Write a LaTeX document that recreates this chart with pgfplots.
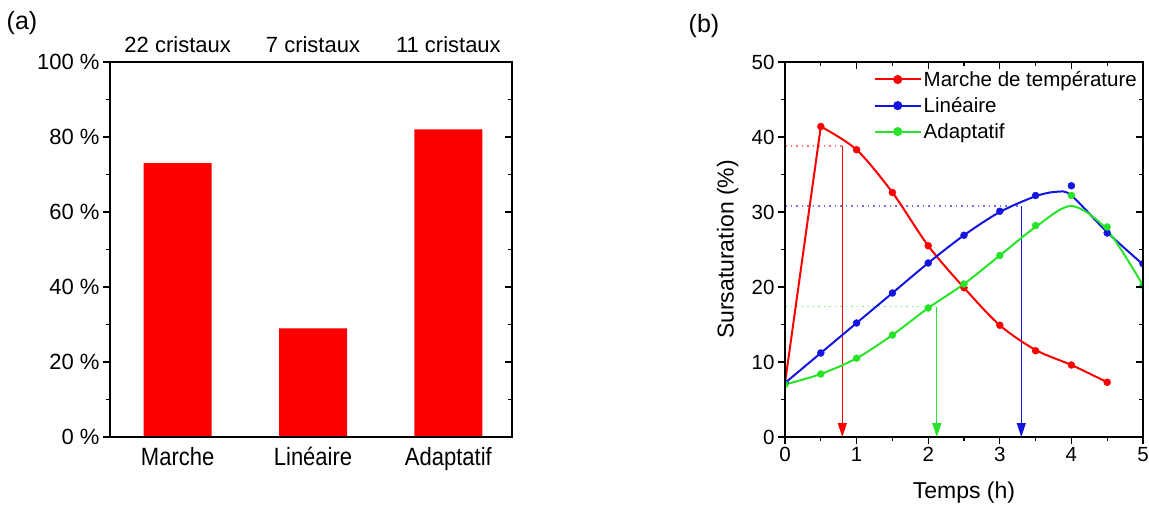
\documentclass[border=0pt]{standalone}
\usepackage{fontspec}
\setmainfont{Liberation Sans}
\newfontfamily\tall{Liberation Sans}[FakeStretch=0.88]
\usepackage{pgfplots}
\pgfplotsset{compat=1.18}
\usetikzlibrary{arrows.meta}

\definecolor{cred}{RGB}{250,0,0}
\definecolor{cblue}{RGB}{20,20,225}
\definecolor{cgreen}{RGB}{40,228,40}

\newcommand{\fa}{\fontsize{22}{26}\selectfont}
\newcommand{\fc}{\tall\fontsize{25}{29}\selectfont}
\newcommand{\fb}{\fontsize{20.5}{24}\selectfont}
\newcommand{\fl}{\fontsize{20.5}{24}\selectfont}
\newcommand{\flab}{\fontsize{23}{27}\selectfont}

\pgfplotsset{
  panel/.style={scale only axis, anchor=south west,
    axis line style={line width=1.5pt}, every tick/.style={black, line width=1.2pt},
    major tick length=7pt, minor tick length=4pt,
    /pgf/number format/assume math mode=true},
}

\begin{document}
\begin{tikzpicture}
\path[use as bounding box] (0pt,0pt) rectangle (1149pt,504pt);

% (a) bars
\begin{axis}[panel, at={(110pt,67pt)}, width=402pt, height=375pt,
  xmin=-0.5, xmax=2.47, ymin=0, ymax=100, clip=false,
  ybar, bar width=68pt,
  xtick=\empty,
  extra x ticks={0,1,2}, extra x tick labels={Marche,Linéaire,Adaptatif},
  extra x tick style={major tick length=0pt, tick label style={font=\fc, yshift=-7pt}},
  ytick={0,20,...,100}, yticklabels={0 \%,20 \%,40 \%,60 \%,80 \%,100 \%},
  minor y tick num=1, ytick pos=left, tick align=outside,
  tick label style={font=\fa}]
\addplot[fill=cred, draw=none] coordinates {(0,73) (1,29) (2,82)};
\node[font=\fa, anchor=base, inner sep=0pt, yshift=9pt] at (axis cs:0,100) {22 cristaux};
\node[font=\fa, anchor=base, inner sep=0pt, yshift=9pt] at (axis cs:1,100) {7 cristaux};
\node[font=\fa, anchor=base, inner sep=0pt, yshift=9pt] at (axis cs:2,100) {11 cristaux};
\end{axis}
\begin{axis}[panel, at={(110pt,67pt)}, width=402pt, height=375pt,
  xmin=-0.5, xmax=2.47, ymin=0, ymax=100, xtick=\empty,
  ytick={0,20,...,100}, yticklabels={}, minor y tick num=1,
  ytick pos=right, tick align=inside]
\end{axis}

\node[font=\fontsize{25}{29}\selectfont, anchor=center] at (22pt,481pt) {(a)};
\node[font=\fontsize{25}{29}\selectfont, anchor=center] at (704pt,478pt) {(b)};

% (b) supersaturation
\begin{axis}[panel, at={(785pt,67pt)}, width=358pt, height=375pt,
  xmin=0, xmax=5, ymin=0, ymax=50,
  xtick={0,1,...,5}, ytick={0,10,...,50}, minor x tick num=1, minor y tick num=1,
  xtick pos=bottom, ytick pos=left, tick align=outside,
  tick label style={font=\fb},
  xlabel={Temps (h)}, ylabel={Sursaturation (\%)},
  label style={font=\flab},
  xlabel style={at={(axis description cs:0.5,-0.147)}, anchor=center},
  ylabel style={at={(axis description cs:-0.16,0.5)}, anchor=center},
  clip marker paths=true,
  legend image code/.code={\draw[mark repeat=2,mark phase=2,#1] plot coordinates {(0pt,0pt) (23pt,0pt) (46pt,0pt)};},
  legend style={draw=none, fill=none, at={(1,1)}, anchor=north east, font=\fl,
    inner sep=0pt, row sep=5.5pt, xshift=-4pt, yshift=-7pt},
  legend cell align=left]
% guide lines
\draw[cred!55, line width=1.3pt, dash pattern=on 1.5pt off 4pt] (axis cs:0,38.8) -- (axis cs:0.8,38.8);
\draw[cred, line width=1pt, -{Triangle[width=9pt,length=14pt]}] (axis cs:0.8,38.8) -- (axis cs:0.8,0);
\draw[cblue!60, line width=1.3pt, dash pattern=on 1.5pt off 4pt] (axis cs:0,30.8) -- (axis cs:3.3,30.8);
\draw[cblue, line width=1pt, -{Triangle[width=9pt,length=14pt]}] (axis cs:3.3,30.8) -- (axis cs:3.3,0);
\draw[cgreen!65, line width=1.3pt, dash pattern=on 1.5pt off 4pt] (axis cs:0,17.4) -- (axis cs:2.12,17.4);
\draw[cgreen, line width=1pt, -{Triangle[width=9pt,length=14pt]}] (axis cs:2.12,17.4) -- (axis cs:2.12,0);
% curves
\addplot[cred, line width=2pt, forget plot] coordinates {(0,7.2) (0.5,41.4)};
\addplot[cred, line width=2pt, smooth, forget plot] coordinates {
  (0.5,41.4) (1,38.3) (1.5,32.6) (2,25.5) (2.5,19.9) (3,14.9) (3.5,11.6) (4,9.6) (4.5,7.3)};
\addplot[cblue, line width=2pt, smooth, forget plot] coordinates {
  (0,7.2) (0.5,11.2) (1,15.2) (1.5,19.2) (2,23.2) (2.5,26.9) (3,30.0) (3.5,32.1)
  (3.8,32.7) (4.0,32.2) (4.5,27.3) (5,23.0)};
\addplot[cgreen, line width=2pt, smooth, forget plot] coordinates {
  (0,7.0) (0.5,8.4) (1,10.5) (1.5,13.6) (2,17.2) (2.5,20.4) (3,24.2) (3.5,28.0)
  (4,30.8) (4.5,27.6) (5,20.2)};
% measured points
\addplot[cred, only marks, mark=*, mark size=3.5pt, forget plot] coordinates {
  (0,7.2) (0.5,41.4) (1,38.3) (1.5,32.6) (2,25.5) (2.5,19.9) (3,14.9) (3.5,11.5) (4,9.6) (4.5,7.3)};
\addplot[cblue, only marks, mark=*, mark size=3.5pt, forget plot] coordinates {
  (0,7.2) (0.5,11.2) (1,15.2) (1.5,19.2) (2,23.2) (2.5,26.9) (3,30.1) (3.5,32.2) (4,33.5) (4.5,27.2) (5,23.1)};
\addplot[cgreen, only marks, mark=*, mark size=3.5pt, forget plot] coordinates {
  (0,7.0) (0.5,8.4) (1,10.5) (1.5,13.6) (2,17.2) (2.5,20.4) (3,24.2) (3.5,28.2) (4,32.2) (4.5,28.0) (5,20.2)};
\addlegendimage{cred, line width=2pt, mark=*, mark size=3.5pt}
\addlegendentry{Marche de température}
\addlegendimage{cblue, line width=2pt, mark=*, mark size=3.5pt}
\addlegendentry{Linéaire}
\addlegendimage{cgreen, line width=2pt, mark=*, mark size=3.5pt}
\addlegendentry{Adaptatif}
\end{axis}
\begin{axis}[panel, at={(785pt,67pt)}, width=358pt, height=375pt,
  xmin=0, xmax=5, ymin=0, ymax=50,
  xtick={0,1,...,5}, ytick={0,10,...,50}, minor x tick num=1, minor y tick num=1,
  xticklabels={}, yticklabels={},
  xtick pos=top, ytick pos=right, tick align=inside]
\end{axis}
\end{tikzpicture}
\end{document}
